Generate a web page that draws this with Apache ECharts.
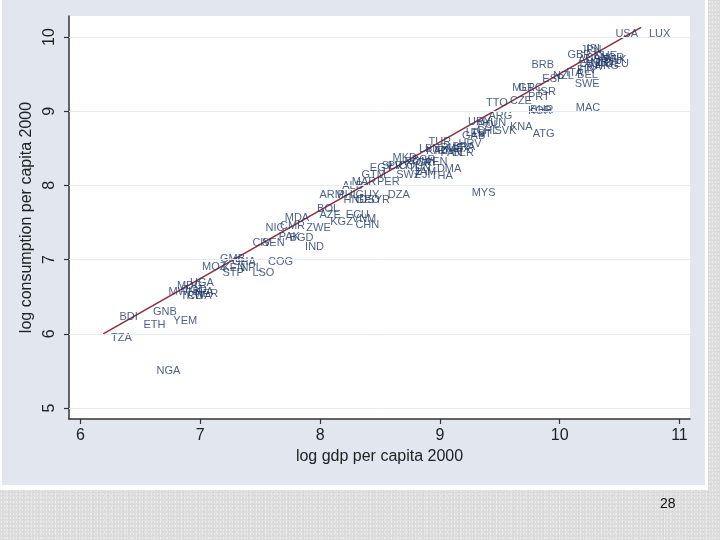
<!DOCTYPE html>
<html>
<head>
<meta charset="utf-8">
<title>consumption vs gdp</title>
<script src="https://cdn.jsdelivr.net/npm/echarts@6/dist/echarts.min.js"></script>
<style>
  html, body { margin:0; padding:0; }
  body {
    width:720px; height:540px; overflow:hidden; position:relative;
    background-color:#dcdcdc;
    background-image:
      radial-gradient(rgba(255,255,255,0.45) 0.8px, transparent 1.1px),
      radial-gradient(rgba(0,0,0,0.05) 0.8px, transparent 1.1px),
      radial-gradient(rgba(255,255,255,0.35) 0.7px, transparent 1px);
    background-size:3px 4px, 5px 3px, 7px 6px;
    background-position:0 0, 1px 2px, 3px 1px;
  }
  #frame { position:absolute; left:0; top:0; width:708px; height:490px; background:#fff; }
  #region { position:absolute; left:2px; top:0; width:703px; height:485px; background:#e1e6ef; }
  #main { position:absolute; left:0; top:0; width:720px; height:540px; }
  #page { position:absolute; left:660px; top:495px; font:14px "Liberation Sans Narrow","Liberation Sans",sans-serif; color:#111; }
</style>
<script type="text/javascript">
    // country codes, log gdp per capita 2000, log consumption per capita 2000
    var codes = ['USA','LUX','JPN','ISL','GBR','CHE','NOR','CAN','AUS','DNK','IRL','NLD','AUT','DEU','HKG','FRA','FIN','ITA','BEL','NZL',
                 'ESP','SWE','BRB','MAC','GRC','MLT','ISR','PRT','CZE','TTO','KOR','BHR','ARG','URY','POL','HUN','KNA','SVK','CHL','EST',
                 'GAB','LTU','ATG','TUR','HRV','LBN','RUS','IRN','MEX','BRA','PAN','KAZ','BLR','MKD','BGR','ROM','CRI','VEN','COL','PRY',
                 'TUN','DMA','EGY','SLV','JAM','SWZ','FJI','THA','GTM','MAR','PER','ALB','MYS','ARM','PHL','GUY','DZA','HND','GEO','SYR',
                 'BOL','AZE','ECU','KGZ','VNM','CHN','MDA','NIC','CMR','ZWE','PAK','BGD','CIV','SEN','IND','COG','GMB','GHA','MOZ','KEN',
                 'NPL','STP','LSO','UGA','MDG','MWI','TGO','BFA','RWA','NER','TCD','GNB','BDI','YEM','ETH','TZA','NGA'];
    var gdp = [10.44,10.72,10.15,10.20,10.04,10.26,10.31,10.19,10.13,10.34,10.29,10.23,10.18,10.36,10.27,10.14,10.12,10.03,10.12,9.92,
               9.83,10.10,9.74,10.11,9.63,9.58,9.79,9.71,9.56,9.36,9.71,9.73,9.38,9.21,9.29,9.33,9.56,9.43,9.28,9.23,
               9.16,9.19,9.75,8.88,9.13,8.80,8.98,8.93,9.03,9.08,8.98,8.86,9.08,8.58,8.74,8.68,8.78,8.85,8.63,8.54,
               8.71,8.95,8.39,8.49,8.76,8.61,8.77,8.90,8.32,8.24,8.45,8.16,9.24,7.97,8.12,8.27,8.54,8.17,8.27,8.37,
               7.95,7.97,8.19,8.06,8.24,8.27,7.68,7.52,7.64,7.86,7.63,7.72,7.41,7.49,7.85,7.54,7.14,7.24,6.99,7.16,
               7.31,7.16,7.41,6.89,6.78,6.71,6.83,6.91,6.86,6.93,6.81,6.58,6.30,6.75,6.50,6.23,6.61];
    var cons = [10.04,10.04,9.82,9.84,9.76,9.74,9.72,9.72,9.69,9.69,9.66,9.65,9.64,9.64,9.61,9.60,9.56,9.51,9.49,9.47,
                9.43,9.37,9.62,9.04,9.31,9.31,9.26,9.19,9.14,9.11,9.00,9.02,8.94,8.85,8.81,8.84,8.79,8.73,8.73,8.69,
                8.67,8.71,8.69,8.58,8.56,8.49,8.50,8.46,8.49,8.52,8.44,8.46,8.44,8.37,8.34,8.32,8.30,8.32,8.26,8.26,
                8.23,8.22,8.23,8.26,8.18,8.14,8.14,8.13,8.14,8.05,8.05,7.99,7.90,7.87,7.87,7.87,7.87,7.80,7.80,7.80,
                7.68,7.60,7.60,7.51,7.55,7.47,7.56,7.43,7.45,7.43,7.30,7.29,7.22,7.22,7.17,6.97,7.01,6.97,6.90,6.89,
                6.89,6.82,6.82,6.68,6.64,6.56,6.59,6.56,6.51,6.54,6.51,6.29,6.23,6.17,6.12,5.94,5.50];
    // fitted line end points
    var fitX = [6.19, 10.68];
    var fitY = [6.00, 10.13];
    var xTicks = [6, 7, 8, 9, 10, 11];
    var yTicks = [5, 6, 7, 8, 9, 10];

    window.onload = function () {
        var chart = echarts.init(document.getElementById('main'));
        var pts = [];
        for (var i = 0; i < codes.length; i++) {
            pts.push({ name: codes[i], value: [gdp[i], cons[i]] });
        }
        var fit = [];
        for (var j = 0; j < fitX.length; j++) {
            fit.push([fitX[j], fitY[j]]);
        }
        var grid = [];
        for (var k = 0; k < yTicks.length; k++) {
            grid.push({ yAxis: yTicks[k] });
        }
        var axisFont = { fontFamily: 'Liberation Sans', fontSize: 16, color: '#222' };
        var option = {
            backgroundColor: 'transparent',
            animation: false,
            grid: {
                left: 69, top: 16, right: 30, bottom: 121,
                show: true, backgroundColor: '#ffffff', borderWidth: 0
            },
            xAxis: {
                type: 'value', min: 5.904, max: 11.088,
                name: 'log gdp per capita 2000', nameLocation: 'middle', nameGap: 28,
                nameTextStyle: axisFont,
                axisLine: { show: true, lineStyle: { color: '#333', width: 1.5 } },
                axisTick: { show: true, length: 5, customValues: xTicks, lineStyle: { color: '#333', width: 1.2 } },
                axisLabel: { customValues: xTicks, margin: 9, fontFamily: 'Liberation Sans', fontSize: 16, color: '#222' },
                splitLine: { show: false }
            },
            yAxis: {
                type: 'value', min: 4.852, max: 10.283,
                name: 'log consumption per capita 2000', nameLocation: 'middle', nameGap: 26,
                nameTextStyle: axisFont,
                axisLine: { show: true, lineStyle: { color: '#333', width: 1.5 } },
                axisTick: { show: true, length: 5, customValues: yTicks, lineStyle: { color: '#333', width: 1.2 } },
                axisLabel: { customValues: yTicks, rotate: 90, margin: 11, fontFamily: 'Liberation Sans', fontSize: 16, color: '#222' },
                splitLine: { show: false }
            },
            series: [{
                type: 'line',
                data: fit,
                symbol: 'none',
                lineStyle: { color: '#8c2d3a', width: 1.5 },
                z: 3,
                markLine: {
                    silent: true, symbol: 'none', label: { show: false },
                    lineStyle: { color: '#e6eaf1', width: 1, type: 'solid' },
                    data: grid
                }
            }, {
                type: 'scatter',
                data: pts,
                symbolSize: 1,
                itemStyle: { color: 'rgba(0,0,0,0)' },
                z: 4,
                label: {
                    show: true, position: 'right', distance: 2.5,
                    formatter: '{b}',
                    fontFamily: 'Liberation Sans', fontSize: 11, color: '#1f3866'
                }
            }]
        };
        chart.setOption(option);
    };
</script>
</head>
<body>
    <div id="frame"></div>
    <div id="region"></div>
    <div id="main"></div>
    <div id="page">28</div>
</body>
</html>
